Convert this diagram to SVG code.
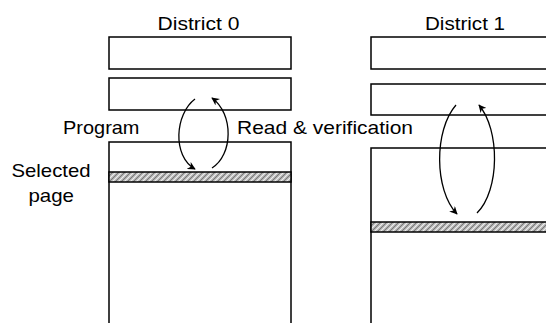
<svg xmlns="http://www.w3.org/2000/svg" width="546" height="323" viewBox="0 0 546 323">
<style>
.box{fill:#fff;stroke:#000;stroke-width:1.5}
.band{fill:url(#hatch);stroke:#000;stroke-width:1.5}
.lbl{font-family:"Liberation Sans",Arial,sans-serif;font-size:18.5px;fill:#000}
.arc{fill:none;stroke:#000;stroke-width:1.3;marker-end:url(#ah)}
</style>
<defs>
<pattern id="hatch" width="6" height="6" patternUnits="userSpaceOnUse">
<rect width="6" height="6" fill="#b0b0b0"/>
<path d="M0,6 L6,0 M-1,1 L1,-1 M5,7 L7,5" stroke="#f0f0f0" stroke-width="1.2"/>
<path d="M0,3 L3,0 M3,6 L6,3" stroke="#6a6a6a" stroke-width="0.8"/>
</pattern>
<marker id="ah" viewBox="0 0 10 10" refX="9" refY="5" markerWidth="8" markerHeight="8" markerUnits="userSpaceOnUse" orient="auto">
<path d="M0,0 L10,5 L0,10 L3,5 Z" fill="#000"/>
</marker>
</defs>
<g id="district0">
<text class="lbl" x="157.5" y="30" textLength="82" lengthAdjust="spacingAndGlyphs">District 0</text>
<rect class="box" x="109" y="37" width="182" height="32"/>
<rect class="box" x="109" y="78" width="182" height="32"/>
<rect class="box" x="109" y="142" width="182" height="190"/>
<rect class="band" x="109" y="172" width="182" height="10"/>
</g>
<g id="district1">
<text class="lbl" x="425" y="30" textLength="80" lengthAdjust="spacingAndGlyphs">District 1</text>
<rect class="box" x="371" y="37" width="190" height="32"/>
<rect class="box" x="371" y="84" width="190" height="31"/>
<rect class="box" x="371" y="148" width="190" height="190"/>
<rect class="band" x="371" y="222" width="190" height="10"/>
</g>
<g id="labels">
<text class="lbl" x="63" y="134" textLength="76.5" lengthAdjust="spacingAndGlyphs">Program</text>
<text class="lbl" x="237" y="134" textLength="176" lengthAdjust="spacingAndGlyphs">Read &amp; verification</text>
<text class="lbl" x="11.5" y="177" textLength="79" lengthAdjust="spacingAndGlyphs">Selected</text>
<text class="lbl" x="28.5" y="202" textLength="45.5" lengthAdjust="spacingAndGlyphs">page</text>
</g>
<g id="connectors">
<path class="arc" d="M195,99 C175,114 172,156 195,169"/>
<path class="arc" d="M212,168 C233,155 234,114 212,98"/>
<path class="arc" d="M456,105 C434,130 434,190 457,214"/>
<path class="arc" d="M477,213 C500,190 500,130 479,105"/>
</g>
</svg>
